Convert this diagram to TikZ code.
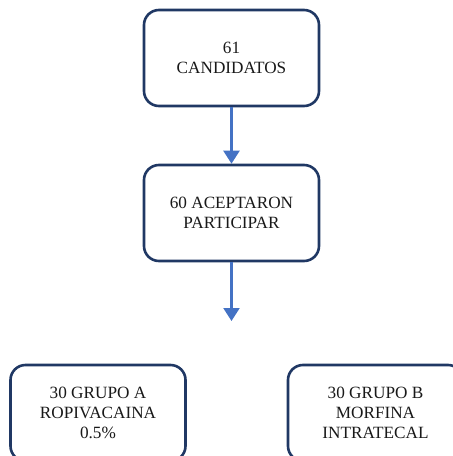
\documentclass[tikz,border=0pt]{standalone}
\usepackage{fontspec}
\setmainfont{Liberation Serif}
\usetikzlibrary{arrows.meta}
\definecolor{boxline}{HTML}{203864}
\definecolor{arrowblue}{HTML}{4472C4}
\begin{document}
\begin{tikzpicture}[x=1pt,y=-1pt,
  flowbox/.style={draw=boxline,line width=2.6pt,rounded corners=15pt,fill=white,
    minimum width=175pt,minimum height=96pt,align=center,font=\fontsize{17.2}{20}\selectfont,
    text=black!90,inner sep=0pt},
  flowarrow/.style={draw=arrowblue,fill=arrowblue,line width=2.2pt,-{Triangle[width=16pt,length=13pt]}}]
\useasboundingbox (0,0) rectangle (453,456);
\clip (0,0) rectangle (453,456);
\node[flowbox] (cand) at (231.5,58) {61\\CANDIDATOS};
\node[flowbox] (acep) at (231.5,213) {60 ACEPTARON\\PARTICIPAR};
\node[flowbox] (grpa) at (98,413) {30 GRUPO A\\ROPIVACAINA\\0.5\%};
\node[flowbox] (grpb) at (375.5,413) {30 GRUPO B\\MORFINA\\INTRATECAL};
\coordinate (end2) at (231.5,321);
\path[flowarrow] (cand.south) -- (acep.north);
\path[flowarrow] (acep.south) -- (end2);
\end{tikzpicture}
\end{document}
